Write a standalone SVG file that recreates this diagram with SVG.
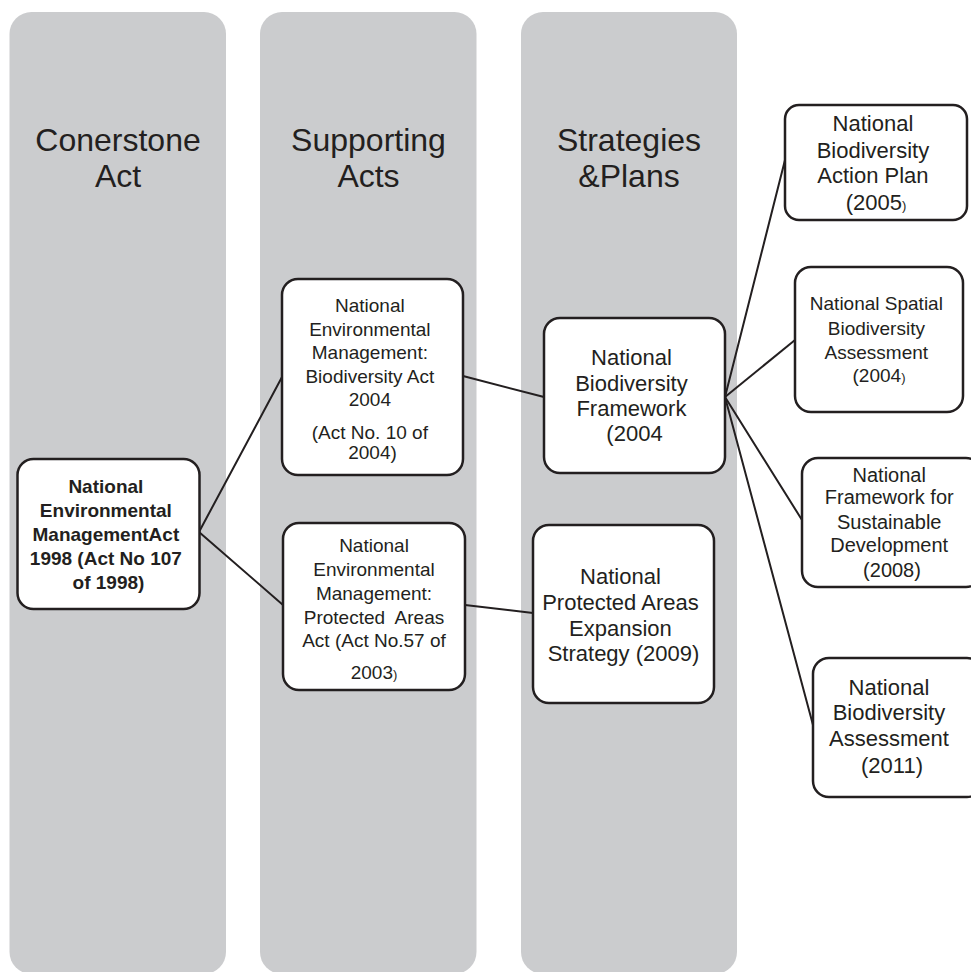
<svg xmlns="http://www.w3.org/2000/svg" width="971" height="972" viewBox="0 0 971 972">
  <style>
    .col { fill: #cbccce; }
    .hdr { font-family: "Liberation Sans", Arial, sans-serif; font-size: 32px; fill: #231f20; text-anchor: middle; }
    .box { fill: #ffffff; stroke: #231f20; stroke-width: 2.5; }
    .t { font-family: "Liberation Sans", Arial, sans-serif; fill: #231f20; text-anchor: middle; }
    .b { font-weight: bold; }
    .sm { font-size: 13px; }
    .link { stroke: #231f20; stroke-width: 2; fill: none; stroke-linecap: round; }
  </style>

  <!-- column bands -->
  <g id="columns">
    <rect class="col" x="9.5" y="12" width="216.5" height="962" rx="22"/>
    <rect class="col" x="260" y="12" width="216.5" height="962" rx="22"/>
    <rect class="col" x="521" y="12" width="216" height="962" rx="22"/>
    <text class="hdr" x="118" y="151">Conerstone</text>
    <text class="hdr" x="118" y="187">Act</text>
    <text class="hdr" x="368.5" y="151">Supporting</text>
    <text class="hdr" x="368.5" y="187">Acts</text>
    <text class="hdr" x="629" y="151">Strategies</text>
    <text class="hdr" x="629" y="187">&amp;Plans</text>
  </g>

  <!-- connectors -->
  <g id="connectors">
    <line class="link" x1="199" y1="532" x2="282" y2="377"/>
    <line class="link" x1="199" y1="532" x2="283" y2="605"/>
    <line class="link" x1="463" y1="376" x2="544" y2="397"/>
    <line class="link" x1="465" y1="605" x2="533" y2="613"/>
    <line class="link" x1="725" y1="397" x2="785" y2="160"/>
    <line class="link" x1="725" y1="397" x2="795" y2="340"/>
    <line class="link" x1="725" y1="397" x2="802" y2="520"/>
    <line class="link" x1="725" y1="397" x2="813" y2="725"/>
  </g>

  <g id="nema1998">
    <rect class="box" x="17.5" y="459" width="182" height="150" rx="16"/>
    <text class="t b" font-size="19" x="108.5">
      <tspan x="108.5" y="493">National</tspan>
      <tspan x="108.5" y="517">Environmental</tspan>
      <tspan x="108.5" y="541">ManagementAct</tspan>
      <tspan x="108.5" y="565">1998 (Act No 107</tspan>
      <tspan x="108.5" y="589">of 1998)</tspan>
    </text>
  </g>

  <g id="nemba2004">
    <rect class="box" x="282" y="279" width="181" height="196" rx="16"/>
    <text class="t" font-size="19">
      <tspan x="372.5" y="312">National</tspan>
      <tspan x="372.5" y="336">Environmental</tspan>
      <tspan x="372.5" y="359">Management:</tspan>
      <tspan x="372.5" y="383">Biodiversity Act</tspan>
      <tspan x="372.5" y="406">2004</tspan>
      <tspan x="372.5" y="439">(Act No. 10 of</tspan>
      <tspan x="372.5" y="459">2004)</tspan>
    </text>
  </g>

  <g id="nempaa2003">
    <rect class="box" x="283" y="523" width="182" height="167" rx="16"/>
    <text class="t" font-size="19" xml:space="preserve"><tspan x="374" y="552">National</tspan><tspan x="374" y="576">Environmental</tspan><tspan x="374" y="600">Management:</tspan><tspan x="374" y="624">Protected  Areas</tspan><tspan x="374" y="647">Act (Act No.57 of</tspan><tspan x="374" y="679">2003<tspan class="sm">)</tspan></tspan></text>
  </g>

  <g id="nbf2004">
    <rect class="box" x="544" y="318" width="181" height="155" rx="16"/>
    <text class="t" font-size="22">
      <tspan x="634.5" y="365">National</tspan>
      <tspan x="634.5" y="391">Biodiversity</tspan>
      <tspan x="634.5" y="416">Framework</tspan>
      <tspan x="634.5" y="441">(2004</tspan>
    </text>
  </g>

  <g id="npaes2009">
    <rect class="box" x="533" y="525" width="181" height="178" rx="16"/>
    <text class="t" font-size="22">
      <tspan x="623.5" y="584">National</tspan>
      <tspan x="623.5" y="610">Protected Areas</tspan>
      <tspan x="623.5" y="636">Expansion</tspan>
      <tspan x="623.5" y="661">Strategy (2009)</tspan>
    </text>
  </g>

  <g id="nbap2005">
    <rect class="box" x="785" y="105" width="182" height="115" rx="14"/>
    <text class="t" font-size="22">
      <tspan x="876" y="131">National</tspan>
      <tspan x="876" y="158">Biodiversity</tspan>
      <tspan x="876" y="183">Action Plan</tspan>
      <tspan x="876" y="210">(2005<tspan class="sm">)</tspan></tspan>
    </text>
  </g>

  <g id="nsba2004">
    <rect class="box" x="795" y="267" width="168" height="145" rx="16"/>
    <text class="t" font-size="19">
      <tspan x="879" y="310">National Spatial</tspan>
      <tspan x="879" y="335">Biodiversity</tspan>
      <tspan x="879" y="359">Assessment</tspan>
      <tspan x="879" y="382">(2004<tspan class="sm">)</tspan></tspan>
    </text>
  </g>

  <g id="nfsd2008">
    <rect class="box" x="802" y="458" width="180" height="129" rx="16"/>
    <text class="t" font-size="20">
      <tspan x="892" y="482">National</tspan>
      <tspan x="892" y="504">Framework for</tspan>
      <tspan x="892" y="529">Sustainable</tspan>
      <tspan x="892" y="552">Development</tspan>
      <tspan x="892" y="577">(2008)</tspan>
    </text>
  </g>

  <g id="nba2011">
    <rect class="box" x="813" y="658" width="170" height="139" rx="16"/>
    <text class="t" font-size="22">
      <tspan x="892" y="695">National</tspan>
      <tspan x="892" y="720">Biodiversity</tspan>
      <tspan x="892" y="746">Assessment</tspan>
      <tspan x="892" y="773">(2011)</tspan>
    </text>
  </g>
</svg>
